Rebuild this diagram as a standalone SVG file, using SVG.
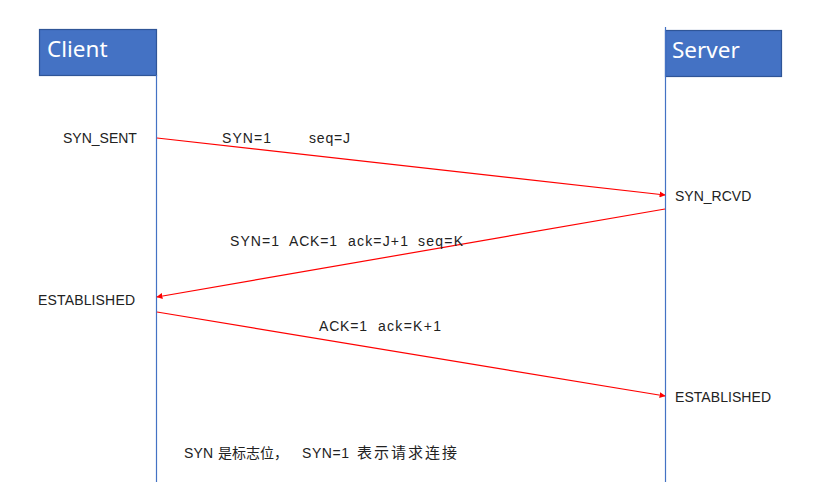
<svg xmlns="http://www.w3.org/2000/svg" width="824" height="482" viewBox="0 0 824 482">
<style>
.box{fill:#4472C4;stroke:#2F5597;stroke-width:1.2}
.title{font-family:"Noto Sans","Liberation Sans",sans-serif;font-size:22.5px;fill:#ffffff}
.life{stroke:#4472C4;stroke-width:1.2}
.msg{stroke:#FF0000;stroke-width:1.2;fill:none;marker-end:url(#ah)}
.lbl{font-family:"Liberation Sans","Noto Sans CJK SC",sans-serif;font-size:14px;fill:#222222}
</style>
<defs>
<marker id="ah" viewBox="0 0 10 10" refX="9" refY="5" markerWidth="6" markerHeight="6" orient="auto" markerUnits="userSpaceOnUse">
<path d="M0,0 L10,5 L0,10 z" fill="#FF0000"/>
</marker>
</defs>
<rect width="824" height="482" fill="#ffffff"/>
<g id="client">
<rect class="box" x="39.5" y="29.5" width="117" height="46"/>
<text class="title" x="47" y="57">Client</text>
<line class="life" x1="156.5" y1="75" x2="156.5" y2="482"/>
</g>
<g id="server">
<rect class="box" x="665.5" y="30.5" width="116" height="46"/>
<text class="title" x="672" y="58">Server</text>
<line class="life" x1="665.5" y1="27" x2="665.5" y2="482"/>
</g>
<g id="connectors">
<line class="msg" x1="157" y1="138" x2="665" y2="195"/>
<line class="msg" x1="665" y1="209" x2="157" y2="297"/>
<line class="msg" x1="157" y1="312" x2="665" y2="396"/>
</g>
<g id="labels">
<text class="lbl" x="63" y="143">SYN_SENT</text>
<text class="lbl" y="143"><tspan x="222" textLength="49">SYN=1</tspan><tspan x="309" textLength="41">seq=J</tspan></text>
<text class="lbl" x="675" y="201">SYN_RCVD</text>
<text class="lbl" y="246"><tspan x="230" textLength="49">SYN=1</tspan><tspan x="289" textLength="48">ACK=1</tspan><tspan x="348" textLength="60">ack=J+1</tspan><tspan x="418" textLength="45">seq=K</tspan></text>
<text class="lbl" x="38" y="305" textLength="97">ESTABLISHED</text>
<text class="lbl" y="331"><tspan x="319" textLength="48">ACK=1</tspan><tspan x="378" textLength="63">ack=K+1</tspan></text>
<text class="lbl" x="675" y="402" textLength="96">ESTABLISHED</text>
<text class="lbl" y="458"><tspan x="184" textLength="29">SYN</tspan><tspan x="218">是标志位，</tspan><tspan x="302" textLength="47">SYN=1</tspan><tspan x="357" font-size="15" textLength="100">表示请求连接</tspan></text>
</g>
</svg>
